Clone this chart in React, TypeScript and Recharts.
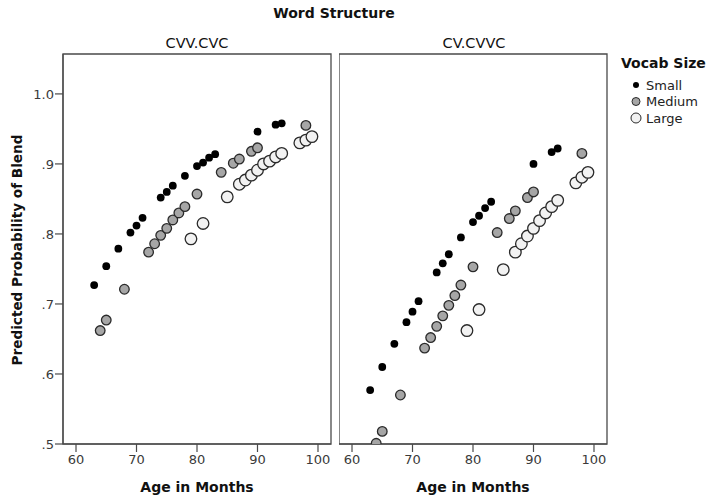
import React from "react";
import { ScatterChart, Scatter, XAxis, YAxis, ReferenceArea } from "recharts";

// ─── Data ────────────────────────────────────────────────────────────────────

const panelTitles = ["CVV.CVC", "CV.CVVC"];
const seriesNames = ["Small", "Medium", "Large"];

const xTicks = [60, 70, 80, 90, 100];
const yTicks = [0.5, 0.6, 0.7, 0.8, 0.9, 1.0];
const yTickLabels = [".5", ".6", ".7", ".8", ".9", "1.0"];

// CVV.CVC
const smallAgeA = [63, 65, 67, 69, 70, 71, 74, 75, 76, 78, 80, 81, 82, 83, 90, 93, 94];
const smallProbA = [0.727, 0.754, 0.779, 0.802, 0.812, 0.823, 0.852, 0.86, 0.869, 0.883, 0.897, 0.902, 0.909, 0.914, 0.946, 0.956, 0.958];
const mediumAgeA = [64, 65, 68, 72, 73, 74, 75, 76, 77, 78, 80, 84, 86, 87, 89, 90, 98];
const mediumProbA = [0.662, 0.677, 0.721, 0.774, 0.786, 0.798, 0.808, 0.82, 0.83, 0.839, 0.857, 0.888, 0.901, 0.907, 0.918, 0.923, 0.955];
const largeAgeA = [79, 81, 85, 87, 88, 89, 90, 91, 92, 93, 94, 97, 98, 99];
const largeProbA = [0.793, 0.815, 0.853, 0.871, 0.877, 0.884, 0.891, 0.9, 0.904, 0.91, 0.915, 0.93, 0.934, 0.939];

// CV.CVVC
const smallAgeB = [63, 65, 67, 69, 70, 71, 74, 75, 76, 78, 80, 81, 82, 83, 90, 93, 94];
const smallProbB = [0.577, 0.61, 0.643, 0.674, 0.689, 0.704, 0.745, 0.758, 0.771, 0.795, 0.817, 0.826, 0.837, 0.846, 0.9, 0.917, 0.922];
const mediumAgeB = [64, 65, 68, 72, 73, 74, 75, 76, 77, 78, 80, 84, 86, 87, 89, 90, 98];
const mediumProbB = [0.501, 0.518, 0.57, 0.637, 0.652, 0.668, 0.683, 0.698, 0.712, 0.727, 0.753, 0.802, 0.822, 0.833, 0.852, 0.86, 0.915];
const largeAgeB = [79, 81, 85, 87, 88, 89, 90, 91, 92, 93, 94, 97, 98, 99];
const largeProbB = [0.662, 0.692, 0.749, 0.774, 0.786, 0.797, 0.808, 0.819, 0.83, 0.839, 0.848, 0.873, 0.881, 0.888];

// ─── Styling ─────────────────────────────────────────────────────────────────

const FONT = "'DejaVu Sans', sans-serif";
const AXIS = "#4a4a4a";
const X_DOMAIN: [number, number] = [57.85, 102.15];
const Y_DOMAIN: [number, number] = [0.5, 1.057];

const markerStyle = [
  { r: 3.9, fill: "#000", stroke: "#000", strokeWidth: 0 },
  { r: 4.8, fill: "#a6a6a6", stroke: "#2a2a2a", strokeWidth: 1.3 },
  { r: 5.8, fill: "#f2f2f2", stroke: "#2a2a2a", strokeWidth: 1.3 },
];

const toPoints = (ages: number[], probs: number[]) =>
  ages.map((age, i) => ({ age, prob: probs[i] }));

const panels = [
  [toPoints(smallAgeA, smallProbA), toPoints(mediumAgeA, mediumProbA), toPoints(largeAgeA, largeProbA)],
  [toPoints(smallAgeB, smallProbB), toPoints(mediumAgeB, mediumProbB), toPoints(largeAgeB, largeProbB)],
];

function dot(idx: number) {
  const s = markerStyle[idx];
  return (props: any) => (
    <circle cx={props.cx} cy={props.cy} r={s.r} fill={s.fill} stroke={s.stroke} strokeWidth={s.strokeWidth} />
  );
}

function Panel({ series, showY, width, left }: { series: any[][]; showY: boolean; width: number; left: number }) {
  return (
    <div style={{ position: "absolute", left, top: 0 }}>
      <ScatterChart width={width} height={503} margin={{ top: 54, right: showY ? 9 : 4, bottom: 0, left: 0 }}>
        <XAxis
          type="number"
          dataKey="age"
          domain={X_DOMAIN}
          allowDataOverflow
          ticks={xTicks}
          height={59}
          tickSize={8}
          tickMargin={3}
          stroke={AXIS}
          strokeWidth={1.2}
          tick={{ fontSize: 13, fill: "#3a3a3a", fontFamily: FONT }}
        />
        <YAxis
          type="number"
          dataKey="prob"
          domain={Y_DOMAIN}
          allowDataOverflow
          ticks={yTicks}
          hide={!showY}
          width={63}
          tickSize={8}
          tickMargin={1}
          stroke={AXIS}
          strokeWidth={1.2}
          tickFormatter={(v: number) => yTickLabels[yTicks.indexOf(v)] ?? ""}
          tick={{ fontSize: 13, fill: "#3a3a3a", fontFamily: FONT }}
        />
        <ReferenceArea
          x1={X_DOMAIN[0]}
          x2={X_DOMAIN[1]}
          y1={Y_DOMAIN[0]}
          y2={Y_DOMAIN[1]}
          fill="none"
          stroke={AXIS}
          strokeWidth={1.3}
        />
        {series.map((pts, i) => (
          <Scatter key={seriesNames[i]} data={pts} shape={dot(i)} isAnimationActive={false} />
        ))}
      </ScatterChart>
    </div>
  );
}

export default function App() {
  return (
    <div style={{ position: "absolute", left: 0, top: 0, width: 714, height: 503, background: "#fff", fontFamily: FONT }}>
      <Panel series={panels[0]} showY width={340} left={0} />
      <Panel series={panels[1]} showY={false} width={272} left={339} />

      <svg width={714} height={503} style={{ position: "absolute", left: 0, top: 0, pointerEvents: "none" }} fontFamily={FONT}>
        <text x={334} y={13} textAnchor="middle" dominantBaseline="central" fontSize={14} fontWeight="bold" fill="#111">
          Word Structure
        </text>
        <text x={197} y={43} textAnchor="middle" dominantBaseline="central" fontSize={14.5} fill="#111">
          {panelTitles[0]}
        </text>
        <text x={474} y={43} textAnchor="middle" dominantBaseline="central" fontSize={14.5} fill="#111">
          {panelTitles[1]}
        </text>
        <text x={197} y={487} textAnchor="middle" dominantBaseline="central" fontSize={14} fontWeight="bold" fill="#111">
          Age in Months
        </text>
        <text x={473} y={487} textAnchor="middle" dominantBaseline="central" fontSize={14} fontWeight="bold" fill="#111">
          Age in Months
        </text>
        <text
          x={17}
          y={250}
          textAnchor="middle"
          dominantBaseline="central"
          fontSize={13.6}
          fontWeight="bold"
          fill="#111"
          transform="rotate(-90 17 250)"
        >
          Predicted Probability of Blend
        </text>

        {/* Legend */}
        <text x={621} y={63} dominantBaseline="central" fontSize={14} fontWeight="bold" fill="#111">
          Vocab Size
        </text>
        {seriesNames.map((name, i) => {
          const s = markerStyle[i];
          const y = 85 + i * 16.5;
          return (
            <g key={name}>
              <circle cx={636} cy={y} r={i === 0 ? 3 : i === 1 ? 4 : 5} fill={s.fill} stroke={s.stroke} strokeWidth={i === 0 ? 0 : 1} />
              <text x={646} y={y} dominantBaseline="central" fontSize={13} fill="#222">
                {name}
              </text>
            </g>
          );
        })}
      </svg>
    </div>
  );
}
